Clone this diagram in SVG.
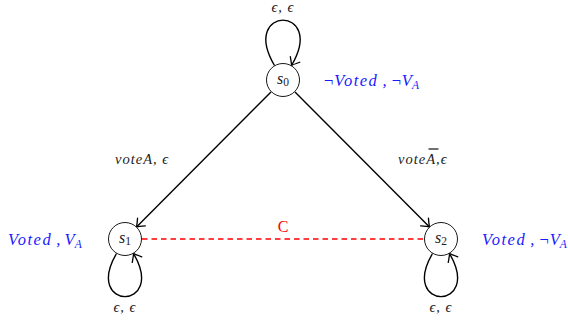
<svg xmlns="http://www.w3.org/2000/svg" width="568" height="325" viewBox="0 0 568 325">
<style>
text{font-family:"Liberation Serif","DejaVu Serif",serif;}
.st{fill:#fff;stroke:#000;stroke-width:0.9;}
.e{fill:none;stroke:#000;stroke-width:1.4;marker-end:url(#ah);}
.lbl{font-size:14.5px;font-style:italic;fill:#222;letter-spacing:1px;}
.prop{font-size:16.5px;font-style:italic;fill:#1a1aff;}
.nm{font-size:16px;font-style:italic;fill:#222;}
.up{font-style:normal;}
</style>
<defs>
<marker id="ah" markerWidth="14" markerHeight="14" refX="0" refY="0" viewBox="-8 -7 10 14" orient="auto" markerUnits="userSpaceOnUse">
<path d="M -7 -5.5 Q -2 -1.2 0 0 Q -2 1.2 -7 5.5" fill="none" stroke="#000" stroke-width="1.3" stroke-linecap="round"/>
</marker>
</defs>
<g id="connectors">
<path class="e" d="M 271 92 L 136.5 227"/>
<path class="e" d="M 295 92 L 429.5 227"/>
<path class="e" d="M 274.5 65.5 C 239 5, 327 5, 291.5 65.5"/>
<path class="e" d="M 116.5 253.5 C 83 311, 167 311, 133.5 253.5"/>
<path class="e" d="M 432.5 253.5 C 399 311, 483 311, 449.5 253.5"/>
<line x1="142" y1="239" x2="424" y2="239" stroke="#ff0000" stroke-width="1.4" stroke-dasharray="5.5,4"/>
<text x="283" y="12" class="lbl" text-anchor="middle">ϵ, ϵ</text>
<text x="125" y="312" class="lbl" text-anchor="middle">ϵ, ϵ</text>
<text x="441" y="312" class="lbl" text-anchor="middle">ϵ, ϵ</text>
<text x="115" y="164" class="lbl">voteA, ϵ</text>
<text x="398" y="164" class="lbl">voteA,ϵ</text>
<line x1="428.5" y1="149" x2="438.5" y2="149" stroke="#222" stroke-width="1.3"/>
<text x="283" y="232" font-size="16" fill="#ff0000" text-anchor="middle">C</text>
</g>
<g id="s0">
<circle class="st" cx="283" cy="80" r="16.5"/>
<text x="283" y="84" class="nm" text-anchor="middle">s<tspan class="up" font-size="11.5" dy="2">0</tspan></text>
<text x="323" y="86" class="prop">¬<tspan letter-spacing="1.5">Voted</tspan> , ¬V<tspan font-size="11.5" dy="3">A</tspan></text>
</g>
<g id="s1">
<circle class="st" cx="125" cy="239" r="16.5"/>
<text x="125" y="243" class="nm" text-anchor="middle">s<tspan class="up" font-size="11.5" dy="2">1</tspan></text>
<text x="8" y="245" class="prop"><tspan letter-spacing="1.5">Voted</tspan> , V<tspan font-size="11.5" dy="3">A</tspan></text>
</g>
<g id="s2">
<circle class="st" cx="441" cy="239" r="16.5"/>
<text x="441" y="243" class="nm" text-anchor="middle">s<tspan class="up" font-size="11.5" dy="2">2</tspan></text>
<text x="482" y="245" class="prop"><tspan letter-spacing="1.5">Voted</tspan> , ¬V<tspan font-size="11.5" dy="3">A</tspan></text>
</g>
</svg>
